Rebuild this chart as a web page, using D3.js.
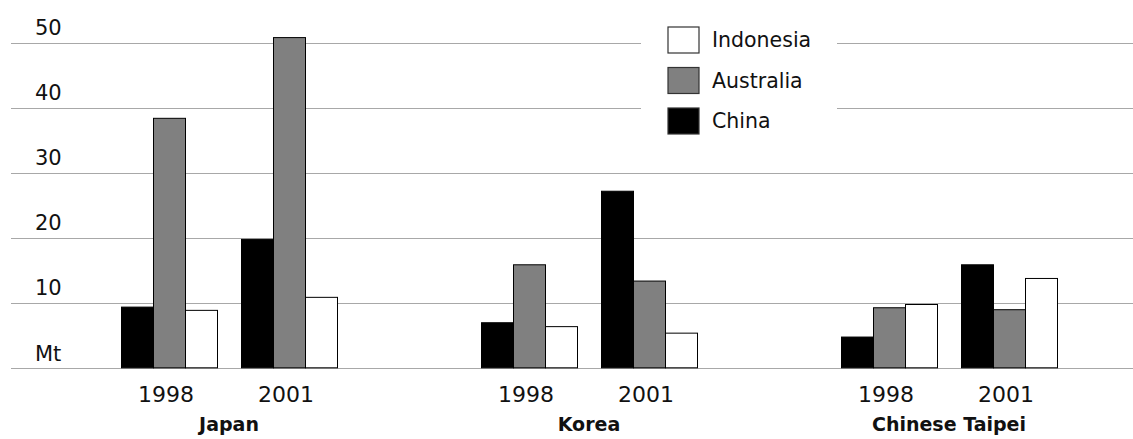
<!DOCTYPE html>
<html>
<head>
<meta charset="utf-8">
<script src="https://cdn.jsdelivr.net/npm/d3@7"></script>
<style>
  body { margin: 0; background: #fff; }
  text { font-family: "DejaVu Sans", sans-serif; fill: #111; }
</style>
</head>
<body>
<svg id="chart" width="1133" height="439"></svg>
<script>
// Data
var countries = ["Japan", "Korea", "Chinese Taipei"];
var years = ["1998", "2001"];
var series = ["China", "Australia", "Indonesia"];
var legendOrder = ["Indonesia", "Australia", "China"];
var colors = ["#000000", "#808080", "#ffffff"];
var yTicks = [10, 20, 30, 40, 50];

// values per country: [1998, 2001] x [China, Australia, Indonesia]
var japan = [[9.4, 38.4, 8.9], [19.8, 50.8, 10.9]];
var korea = [[7.0, 15.9, 6.4], [27.2, 13.4, 5.4]];
var taipei = [[4.8, 9.3, 9.8], [15.9, 9.0, 13.8]];
var values = [japan, korea, taipei];

var svg = d3.select("#chart");
var width = 1133, gridLeft = 11;

// Scales
var yScale = d3.scaleLinear().domain([0, 50]).range([368.3, 42.8]);
var xCountry = d3.scaleBand().domain(countries).range([49, 1129]);
var xYear = d3.scalePoint().domain(years).range([120, 240]);
var xSeries = d3.scaleBand().domain(series).range([-48, 48]);
var color = d3.scaleOrdinal().domain(series).range(colors);

// Gridlines (including baseline)
svg.append("g")
  .selectAll("line")
  .data([0].concat(yTicks))
  .enter()
  .append("line")
  .attr("x1", gridLeft)
  .attr("x2", width)
  .attr("y1", function(d) { return Math.round(yScale(d)) + 0.5; })
  .attr("y2", function(d) { return Math.round(yScale(d)) + 0.5; })
  .attr("stroke", "#a8a8a8")
  .attr("stroke-width", 1.2);

// Y labels above gridlines
svg.append("g")
  .selectAll("text")
  .data(yTicks)
  .enter()
  .append("text")
  .attr("x", 35)
  .attr("y", function(d) { return yScale(d) - 8; })
  .style("font-size", "21px")
  .text(function(d) { return d; });

svg.append("text")
  .attr("x", 35)
  .attr("y", yScale(0) - 7.5)
  .style("font-size", "21px")
  .text("Mt");

// Bars
var groups = svg.selectAll(".country")
  .data(countries)
  .enter()
  .append("g")
  .attr("class", "country")
  .attr("transform", function(d) { return "translate(" + xCountry(d) + ",0)"; });

groups.each(function(c, ci) {
  var g = d3.select(this);
  years.forEach(function(yr, yi) {
    var yg = g.append("g").attr("transform", "translate(" + xYear(yr) + ",0)");
    yg.selectAll("rect")
      .data(series)
      .enter()
      .append("rect")
      .attr("x", function(s) { return xSeries(s) + 0.5; })
      .attr("width", xSeries.bandwidth())
      .attr("y", function(s, si) { return yScale(values[ci][yi][si]); })
      .attr("height", function(s, si) { return yScale(0) - yScale(values[ci][yi][si]) - 0.5; })
      .attr("fill", function(s) { return color(s); })
      .attr("stroke", "#000")
      .attr("stroke-width", 1);
    yg.append("text")
      .attr("x", -3)
      .attr("y", 402)
      .attr("text-anchor", "middle")
      .style("font-size", "22px")
      .text(yr);
  });
  g.append("text")
    .attr("x", xCountry.bandwidth() / 2)
    .attr("y", 431)
    .attr("text-anchor", "middle")
    .style("font-size", "19px")
    .style("font-weight", "bold")
    .text(c);
});

// Legend (white backdrop breaks the upper gridlines)
var legend = svg.append("g").attr("transform", "translate(641,20)");
legend.append("rect")
  .attr("width", 196)
  .attr("height", 125)
  .attr("fill", "#fff");

var items = legend.selectAll(".item")
  .data(legendOrder)
  .enter()
  .append("g")
  .attr("class", "item")
  .attr("transform", function(d, i) { return "translate(27," + (7 + i * 40.5) + ")"; });

items.append("rect")
  .attr("width", 31)
  .attr("height", 26)
  .attr("fill", function(d) { return color(d); })
  .attr("stroke", "#333")
  .attr("stroke-width", 1.2);

items.append("text")
  .attr("x", 44)
  .attr("y", 20)
  .style("font-size", "20.5px")
  .text(function(d) { return d; });
</script>
</body>
</html>
